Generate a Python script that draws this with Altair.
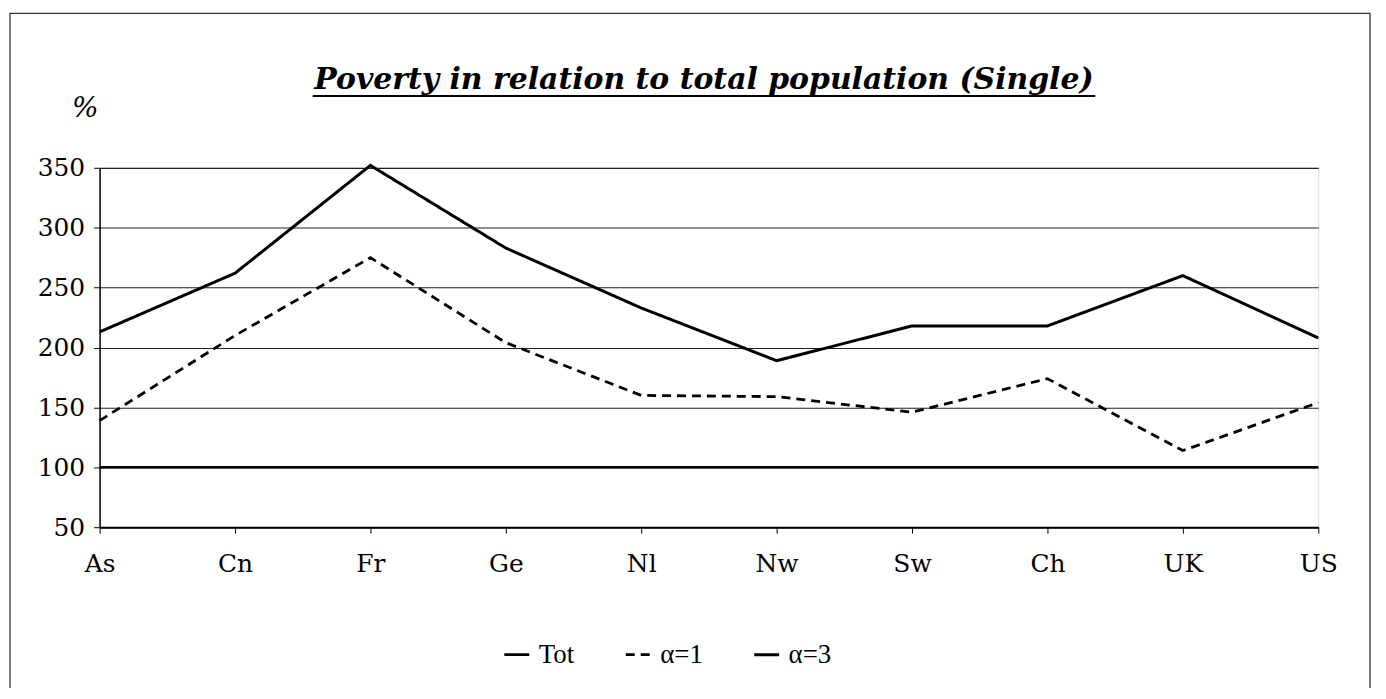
import altair as alt
import pandas as pd

categories = ["As", "Cn", "Fr", "Ge", "Nl", "Nw", "Sw", "Ch", "UK", "US"]
tot_values = [100, 100, 100, 100, 100, 100, 100, 100, 100, 100]
alpha1_values = [139, 210, 275, 204, 160, 159, 146, 174, 114, 154]
alpha3_values = [213, 262, 352, 283, 233, 189, 218, 218, 260, 208]
series_names = ["Tot", "α=1", "α=3"]
y_ticks = [50, 100, 150, 200, 250, 300, 350]
title_text = "Poverty in relation to total population (Single)"

rows = []
for name, vals in zip(series_names, [tot_values, alpha1_values, alpha3_values]):
    for i, (c, v) in enumerate(zip(categories, vals)):
        rows.append({"country": c, "value": v, "series": name, "idx": i})
df = pd.DataFrame(rows)

W, H = 1224, 361
one = pd.DataFrame({"k": [0]})

legend = alt.Legend(
    title=None, orient="none", legendX=405, legendY=475, direction="horizontal",
    symbolType="stroke", symbolSize=625, symbolStrokeColor="black",
    labelFont="Liberation Serif", labelFontSize=27, labelColor="black",
    labelOffset=8, columnPadding=45, padding=0, labelBaseline="middle",
)

lines = alt.Chart(df).mark_line(color="black").encode(
    x=alt.X("country:N", sort=categories,
            scale=alt.Scale(type="point", padding=0),
            axis=alt.Axis(title=None, labelAngle=0, labelFont="DejaVu Serif",
                          labelFontSize=25, labelColor="black", labelPadding=18,
                          tickSize=6, tickColor="black", domainColor="black",
                          domainWidth=2, grid=False)),
    y=alt.Y("value:Q", scale=alt.Scale(domain=[50, 350], nice=False, zero=False),
            axis=alt.Axis(values=y_ticks, title="%", titleAngle=0, titleX=-15,
                          titleY=-60, titleAlign="center", titleBaseline="middle",
                          titleFont="DejaVu Serif", titleFontSize=28,
                          titleFontWeight="normal", titleFontStyle="italic",
                          titleColor="black",
                          labelFont="DejaVu Serif", labelFontSize=25,
                          labelColor="black", labelPadding=9, tickSize=6,
                          tickColor="black", domainColor="black", domainWidth=1.5,
                          grid=True, gridColor="#222", gridWidth=1.2)),
    strokeDash=alt.StrokeDash("series:N",
                              scale=alt.Scale(domain=series_names,
                                              range=[[1, 0], [9, 6], [1, 0]]),
                              legend=legend),
    strokeWidth=alt.StrokeWidth("series:N",
                                scale=alt.Scale(domain=series_names,
                                                range=[2.6, 3, 2.4]),
                                legend=legend),
    order=alt.Order("idx:Q"),
)

border = alt.Chart(one).mark_rect(fillOpacity=0, stroke="#333", strokeWidth=1.3).encode(
    x=alt.value(-90), x2=alt.value(1276), y=alt.value(-155), y2=alt.value(600)
)

title = alt.Chart(one).mark_text(
    font="DejaVu Serif", fontSize=30, fontStyle="italic", fontWeight="bold",
    align="center", baseline="alphabetic", color="black"
).encode(x=alt.value(607), y=alt.value(-79), text=alt.value(title_text))

underline = alt.Chart(one).mark_rule(color="black", strokeWidth=2).encode(
    x=alt.value(214), x2=alt.value(1000), y=alt.value(-72)
)

chart = alt.layer(border, title, underline, lines).properties(
    width=W, height=H,
    autosize=alt.AutoSizeParams(type="none"),
    padding={"left": 92, "top": 159, "right": 60, "bottom": 160},
).configure_view(stroke=None).configure(background="white")

chart.save("out.html", embed_options={"renderer": "svg", "actions": False})
